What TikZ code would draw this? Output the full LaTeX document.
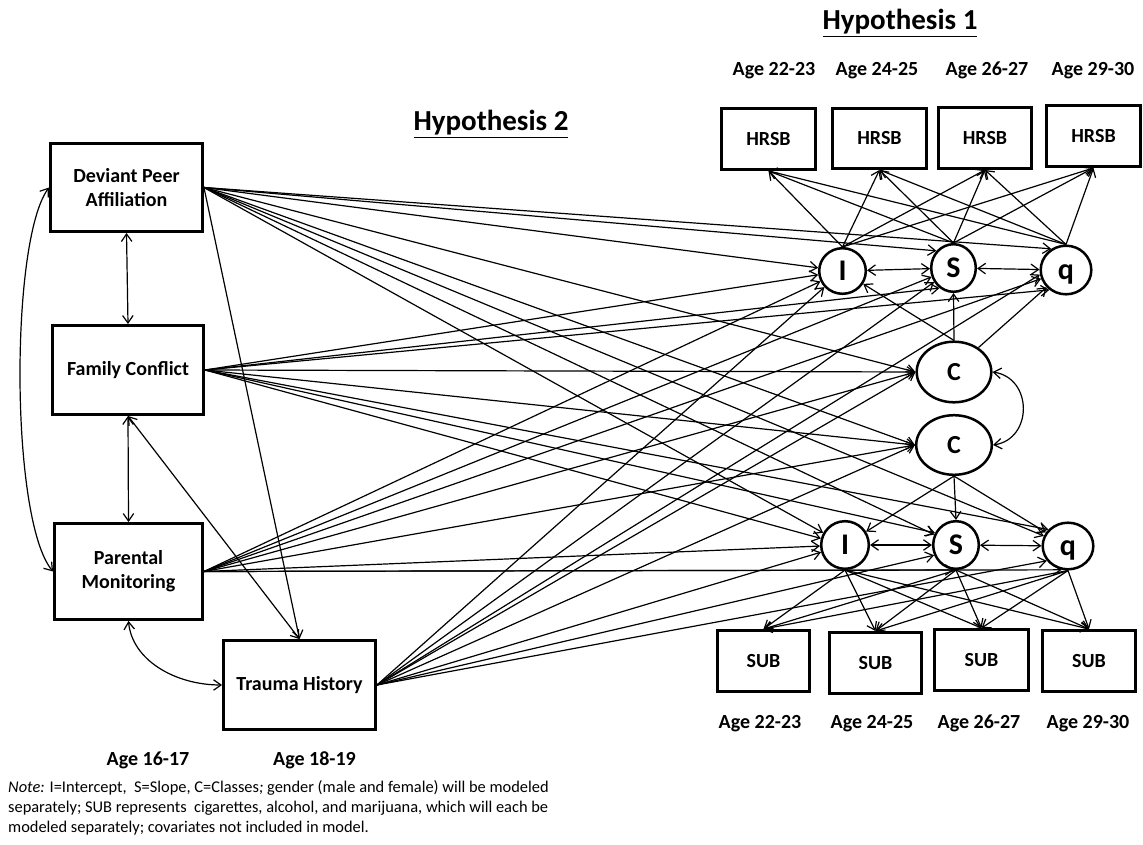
\documentclass[tikz,border=0pt]{standalone}
\usepackage{fontspec}
\setmainfont{Carlito}
\usetikzlibrary{arrows.meta,shapes.geometric,calc}
\begin{document}
\begin{tikzpicture}[x=1pt,y=-1pt,
  box/.style={draw, line width=2.9pt, inner sep=0pt, align=center, font=\fontsize{20}{24}\selectfont\bfseries},
  lat/.style={draw, ellipse, line width=2.5pt, inner sep=0pt, text height=19.5pt, text depth=0pt, font=\fontsize{30}{30}\selectfont\bfseries},
  latc/.style={lat, text height=16.5pt, font=\fontsize{26}{26}\selectfont\bfseries},
  arr/.style={line width=1.2pt, -{Straight Barb[length=7.5pt,width=10.5pt]}},
  biarr/.style={line width=1.2pt, {Straight Barb[length=7.5pt,width=10.5pt]}-{Straight Barb[length=7.5pt,width=10.5pt]}},
  lbl/.style={font=\fontsize{20}{24}\selectfont\bfseries, anchor=base, inner sep=0pt},
  ttl/.style={font=\fontsize{29}{30}\selectfont\bfseries, anchor=base, inner sep=0pt},
  note/.style={font=\fontsize{16.4}{19}\selectfont, anchor=base west, inner sep=0pt}
  ]
\useasboundingbox (0,0) rectangle (1143,845);

% predictors
\node[box, minimum width=152pt, minimum height=88pt] (dpa) at (126.5,187.5) {Deviant Peer\\Affiliation};
\node[box, minimum width=151pt, minimum height=89pt] (fc) at (128,370) {Family Conflict};
\node[box, minimum width=148pt, minimum height=96pt] (pm) at (128.5,571.5) {Parental\\Monitoring};
\node[box, minimum width=152pt, minimum height=89pt] (th) at (299.5,685) {Trauma History};

% outcome boxes
\node[box, minimum width=94pt, minimum height=61pt] (h1) at (768.5,139) {HRSB};
\node[box, minimum width=94pt, minimum height=60pt] (h2) at (879.5,138.5) {HRSB};
\node[box, minimum width=93pt, minimum height=61pt] (h3) at (985,138) {HRSB};
\node[box, minimum width=94pt, minimum height=61pt] (h4) at (1093.5,136) {HRSB};
\node[box, minimum width=92pt, minimum height=61pt] (s1) at (763.5,661) {SUB};
\node[box, minimum width=92pt, minimum height=61pt] (s2) at (875.5,663) {SUB};
\node[box, minimum width=94pt, minimum height=61pt] (s3) at (981.5,660) {SUB};
\node[box, minimum width=93pt, minimum height=61pt] (s4) at (1089,661) {SUB};

% latents
\node[lat, minimum width=46.6pt, minimum height=45.6pt] (It) at (842.5,271) {I};
\node[lat, minimum width=44.6pt, minimum height=47.6pt] (St) at (953.5,268) {S};
\node[lat, minimum width=50.6pt, minimum height=48.6pt] (qt) at (1066,270) {q};
\node[latc, minimum width=74.6pt, minimum height=60.6pt] (c1) at (954,372) {C};
\node[latc, minimum width=75.6pt, minimum height=59.6pt] (c2) at (954,445) {C};
\node[lat, minimum width=47.6pt, minimum height=47.6pt] (Ib) at (845,545) {I};
\node[lat, minimum width=45.6pt, minimum height=47.6pt] (Sb) at (956,545) {S};
\node[lat, minimum width=50.6pt, minimum height=46.6pt] (qb) at (1068,546) {q};

% predictor paths (Hypothesis 2)
\foreach \p in {dpa,fc,pm,th}{
  \draw[arr] (\p.east) -- (It);
  \draw[arr] (\p.east) -- (c1.west);
  \draw[arr] (\p.east) -- (c2.west);
  \draw[arr] (\p.east) -- (Ib);
}
\draw[arr] (dpa.east) -- (St.135);
\draw[arr] (dpa.east) -- (qt.125);
\draw[arr] (fc.east) -- (St.235);
\draw[arr] (fc.east) -- (qt.230);
\draw[arr] (pm.east) -- (St);
\draw[arr] (pm.east) -- (qt);
\draw[arr] (th.east) -- (St);
\draw[arr] (th.east) -- (qt.190);
\draw[arr] (dpa.east) -- (Sb);
\draw[arr] (dpa.east) -- (qb);
\draw[arr] (fc.east) -- (Sb.150);
\draw[arr] (fc.east) -- (qb.140);
\draw[arr] (pm.east) -- (Sb.265);
\draw[arr] (pm.east) -- (qb.255);
\draw[arr] (th.east) -- (Sb.205);
\draw[arr] (th.east) -- (qb.215);

% predictor covariances
\draw[biarr] (dpa.south) -- (fc.north);
\draw[biarr] (fc.south) -- (pm.north);
\draw[biarr] (fc.south) -- (th.north);
\draw[arr] (dpa.east) -- (th.north);
\draw[biarr] (dpa.west) .. controls (10,240) and (10,520) .. (pm.west);
\draw[biarr] (pm.south) .. controls (132,660) and (175,685) .. (th.west);

% latent covariances
\draw[biarr] (It) -- (St);
\draw[biarr] (St) -- (qt);
\draw[biarr] (Ib) -- (Sb);
\draw[biarr] (Sb) -- (qb);
\draw[biarr] (c1.east) .. controls (1033,378) and (1033,439) .. (c2.east);

% class paths
\draw[arr] (c1.north) -- (It);
\draw[arr] (c1.north) -- (St.south);
\draw[arr] (c1.45) -- (qt);
\draw[arr] (c2.south) -- (Ib);
\draw[arr] (c2.south) -- (Sb.north);
\draw[arr] (c2.south) -- (qb);

% loadings
\foreach \s in {It,St,qt}{
  \foreach \h in {h1,h2,h3,h4}{\draw[arr] (\s.north) -- (\h.south);}
}
\foreach \s in {Ib,Sb,qb}{
  \foreach \u in {s1,s2,s3,s4}{\draw[arr] (\s.south) -- (\u.north);}
}

% titles and labels
\node[ttl] (hyp2) at (491,131) {\underline{Hypothesis 2}};
\node[ttl] (hyp1) at (900,30) {\underline{Hypothesis 1}};
\node[lbl] (ta1) at (774,76) {Age 22-23};
\node[lbl] (ta2) at (877,76) {Age 24-25};
\node[lbl] (ta3) at (987,76) {Age 26-27};
\node[lbl] (ta4) at (1093,76) {Age 29-30};
\node[lbl] (ba1) at (760,728) {Age 22-23};
\node[lbl] (ba2) at (872,728) {Age 24-25};
\node[lbl] (ba3) at (979,728) {Age 26-27};
\node[lbl] (ba4) at (1088,728) {Age 29-30};
\node[lbl] (a16) at (148,765) {Age 16-17};
\node[lbl] (a18) at (314.5,765) {Age 18-19};

\node[note] (n1) at (8,792) {\textit{Note:} I=Intercept, \ S=Slope, C=Classes\textit{;} gender (male and female) will be modeled};
\node[note] (n2) at (8,812) {separately; SUB represents \ cigarettes, alcohol, and marijuana, which will each be};
\node[note] (n3) at (8,832) {modeled separately; covariates not included in model.};
\end{tikzpicture}
\end{document}
